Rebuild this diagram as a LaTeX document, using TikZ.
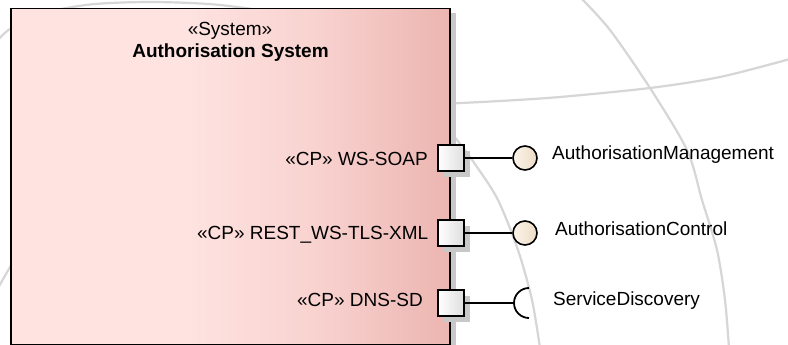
\documentclass[tikz,border=0pt]{standalone}
\usepackage{fontspec}
\setmainfont{Liberation Sans}
\usetikzlibrary{calc}

\definecolor{sysLight}{RGB}{254,227,225}
\definecolor{sysMid}{RGB}{248,210,207}
\definecolor{sysDark}{RGB}{236,181,177}
\definecolor{ballLight}{RGB}{252,244,233}
\definecolor{ballDark}{RGB}{236,220,198}
\definecolor{shadowGray}{RGB}{200,200,200}
\definecolor{globeGray}{RGB}{214,214,214}

% pale left half, deepening towards the right edge
\pgfdeclarehorizontalshading{sysshade}{100bp}{color(0bp)=(sysLight); color(45bp)=(sysLight); color(60bp)=(sysMid); color(75bp)=(sysDark); color(100bp)=(sysDark)}

\tikzset{
  globeline/.style={globeGray, line width=2.2pt, line cap=round},
  sysbox/.style={rectangle, draw=black, line width=1.8pt, shading=sysshade, inner sep=0pt},
  portbox/.style={rectangle, draw=black, line width=1.8pt, minimum size=26pt, inner sep=0pt,
                  left color=white, middle color=white, right color=black!13},
  portshadow/.style={fill=shadowGray, minimum size=26pt, inner sep=0pt},
  ball/.style={circle, draw=black, line width=1.6pt, minimum size=24pt, inner sep=0pt,
               left color=ballLight, right color=ballDark},
  wire/.style={black, line width=1.8pt},
  lbl/.style={inner sep=0pt, font=\fontsize{19}{23}\selectfont},
}

\begin{document}
\begin{tikzpicture}[x=1pt, y=-1pt]
\useasboundingbox (0,0) rectangle (788,345);
\fill[white] (0,0) rectangle (788,345);

% faint globe lines in the background
\draw[globeline] plot[smooth] coordinates {(-2,40) (10,29) (40,14) (90,4.5) (150,2) (215,4.5) (280,13)};
\draw[globeline] (-2,288) -- (14,260);
\draw[globeline] plot[smooth] coordinates {(440,104) (500,101) (560,97) (650,88) (720,77) (790,59)};
\draw[globeline] plot[smooth] coordinates {(580,-3) (610,30) (650,88) (687,150) (702,200) (717,250) (725,300) (729,348)};
\draw[globeline] plot[smooth] coordinates {(430,108) (457,140) (477,167) (498,200) (518,250) (532,300) (540,348)};

% system block with its drop shadow
\fill[shadowGray] (449,13) rectangle (456,346);
\node[sysbox, minimum width=438.7pt, minimum height=336pt, anchor=north west] (sys) at (10,7.7) {};

\node[lbl, anchor=base] (stereo) at (230,35.5) {«System»};
\node[lbl, anchor=base, font=\fontsize{19}{23}\selectfont\bfseries] (title) at (230.5,58) {Authorisation System};

% ports on the right edge
\node[portshadow] at (457,164) {};
\node[portshadow] at (457,239) {};
\node[portshadow] at (457,309) {};
\node[portbox] (p1) at (451,158) {};
\node[portbox] (p2) at (451,233) {};
\node[portbox] (p3) at (451,303) {};

\node[lbl, anchor=base east] (l1) at (428,165.5) {«CP» WS-SOAP};
\node[lbl, anchor=base east] (l2) at (428.5,239.5) {«CP» REST\_WS-TLS-XML};
\node[lbl, anchor=base east] (l3) at (423,306.5) {«CP» DNS-SD};

% provided interfaces (balls) and required interface (socket)
\node[ball] (b1) at (525,158) {};
\node[ball] (b2) at (525,233) {};
\coordinate (s3) at (514,303);

\draw[wire] (p1) -- (b1);
\draw[wire] (p2) -- (b2);
\draw[wire] (p3) -- (s3);
\draw[wire] (s3) arc[start angle=180, end angle=90, radius=15pt];
\draw[wire] (s3) arc[start angle=180, end angle=270, radius=15pt];

\node[lbl, anchor=base west] (i1) at (552,159) {AuthorisationManagement};
\node[lbl, anchor=base west] (i2) at (555,235) {AuthorisationControl};
\node[lbl, anchor=base west] (i3) at (553,305.5) {ServiceDiscovery};
\end{tikzpicture}
\end{document}
